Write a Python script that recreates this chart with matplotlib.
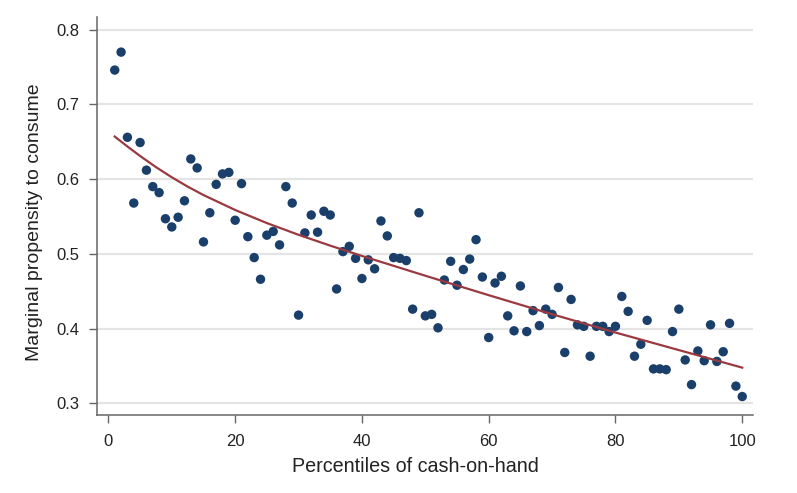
import numpy as np
import matplotlib
matplotlib.use("Agg")
import matplotlib.pyplot as plt

plt.rcParams['font.family'] = ['Liberation Sans', 'DejaVu Sans']

percentiles = list(range(1, 101))
mpc = [0.746, 0.770, 0.656, 0.568, 0.649, 0.612, 0.590, 0.582, 0.547, 0.536,
       0.549, 0.571, 0.627, 0.615, 0.516, 0.555, 0.593, 0.607, 0.609, 0.545,
       0.594, 0.523, 0.495, 0.466, 0.525, 0.530, 0.512, 0.590, 0.568, 0.418,
       0.528, 0.552, 0.529, 0.557, 0.552, 0.453, 0.503, 0.510, 0.494, 0.467,
       0.492, 0.480, 0.544, 0.524, 0.495, 0.494, 0.491, 0.426, 0.555, 0.417,
       0.419, 0.401, 0.465, 0.490, 0.458, 0.479, 0.493, 0.519, 0.469, 0.388,
       0.461, 0.470, 0.417, 0.397, 0.457, 0.396, 0.424, 0.404, 0.426, 0.419,
       0.455, 0.368, 0.439, 0.405, 0.403, 0.363, 0.403, 0.403, 0.396, 0.403,
       0.443, 0.423, 0.363, 0.379, 0.411, 0.346, 0.346, 0.345, 0.396, 0.426,
       0.358, 0.325, 0.370, 0.357, 0.405, 0.356, 0.369, 0.407, 0.323, 0.309]

# fitted curve
fit_x = [1, 3, 5, 7.5, 10, 12.5, 15, 20, 25, 30, 35, 40, 50, 60, 70, 80, 90, 100]
fit_y = [0.657, 0.6437, 0.6310, 0.6161, 0.6025, 0.5900, 0.5787, 0.5587, 0.5412,
         0.5255, 0.5110, 0.4972, 0.4707, 0.4447, 0.4192, 0.3947, 0.3712, 0.3477]

x_ticks = [0, 20, 40, 60, 80, 100]
y_ticks = [0.3, 0.4, 0.5, 0.6, 0.7, 0.8]
x_label = "Percentiles of cash-on-hand"
y_label = "Marginal propensity to consume"

fig = plt.figure(figsize=(7.97, 4.93), dpi=100)
ax = fig.add_axes([0.1217, 0.1582, 0.8231, 0.8073])

for yt in y_ticks:
    ax.axhline(yt, color='#e4e4e4', lw=1.6, zorder=0)

ax.scatter(percentiles, mpc, s=46, color='#1a3f6b', edgecolors='none', zorder=3)
ax.plot(fit_x, fit_y, color='#9a3a40', lw=1.6, zorder=4, solid_joinstyle='round')

ax.set_xlim(-1.8, 101.7)
ax.set_ylim(0.2843, 0.817)
ax.set_xticks(x_ticks)
ax.set_yticks(y_ticks)
ax.set_xticklabels([str(t) for t in x_ticks])
ax.set_yticklabels([f"{t:.1f}" for t in y_ticks])

for s in ['top', 'right']:
    ax.spines[s].set_visible(False)
for s in ['left', 'bottom']:
    ax.spines[s].set_color('#666666')
    ax.spines[s].set_linewidth(1.1)

ax.tick_params(axis='both', colors='#666666', labelcolor='#222222', labelsize=12, width=1.0)
ax.tick_params(axis='x', length=6, pad=8)
ax.tick_params(axis='y', length=5.5, pad=7)

ax.set_xlabel(x_label, fontsize=14.2, color='#222222')
ax.set_ylabel(y_label, fontsize=14.0, color='#222222')
ax.xaxis.set_label_coords(0.486, -0.105)
ax.yaxis.set_label_coords(-0.082, 0.485)

fig.savefig('out.png', dpi=100)
